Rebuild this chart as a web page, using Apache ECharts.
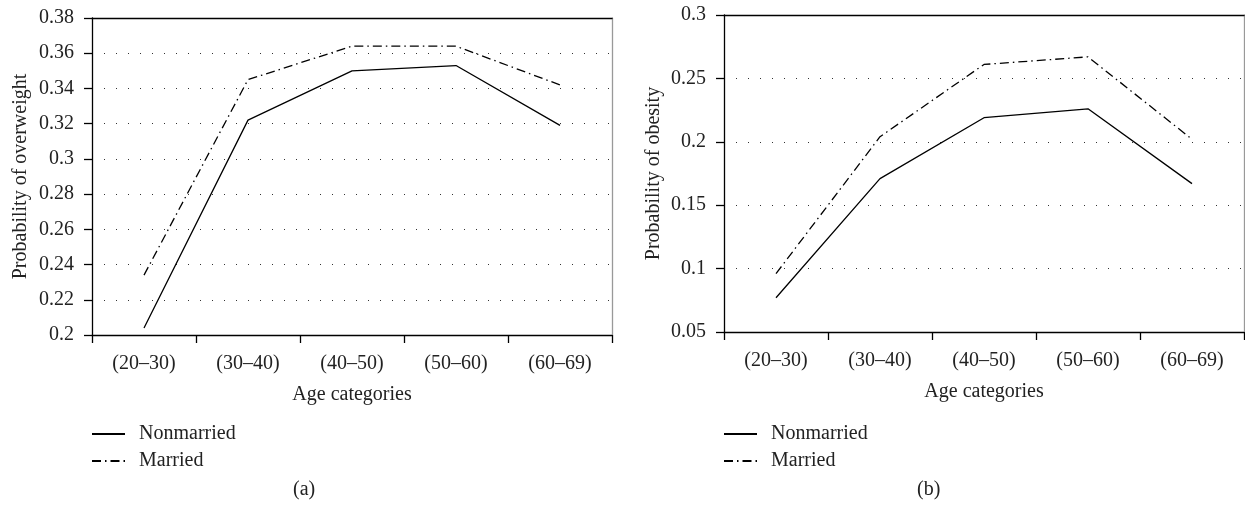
<!DOCTYPE html>
<html>
<head>
<meta charset="utf-8">
<script src="https://cdn.jsdelivr.net/npm/echarts@6/dist/echarts.min.js"></script>
<style>
  body { margin: 0; background: #fff; }
  #main { width: 1245px; height: 506px; }
</style>
</head>
<body>
<div id="main"></div>
<script>
// age groups on the x axis (both panels)
var ageCats = ['(20\u201330)', '(30\u201340)', '(40\u201350)', '(50\u201360)', '(60\u201369)'];

// panel (a): probability of overweight
var overNonmarried = [0.204, 0.322, 0.350, 0.353, 0.319];
var overMarried = [0.234, 0.345, 0.364, 0.364, 0.342];

// panel (b): probability of obesity
var obeseNonmarried = [0.077, 0.171, 0.219, 0.226, 0.167];
var obeseMarried = [0.096, 0.204, 0.261, 0.267, 0.202];

var FONT = 'Liberation Serif';
var FS = 20;
var dashDot = [9, 4, 1.5, 4];

function catAxis(gi) {
  return {
    type: 'category', gridIndex: gi, data: ageCats, boundaryGap: true,
    name: 'Age categories', nameLocation: 'middle', nameGap: 50,
    nameTextStyle: { fontFamily: FONT, fontSize: FS, color: '#222' },
    axisLine: { lineStyle: { color: '#000', width: 1.3 } },
    axisTick: { show: true, length: 8, lineStyle: { color: '#000', width: 1.3 } },
    axisLabel: { margin: 19, fontFamily: FONT, fontSize: FS, color: '#222' }
  };
}
function topAxis(gi) {
  return {
    type: 'category', gridIndex: gi, data: ageCats, position: 'top',
    axisLine: { lineStyle: { color: '#000', width: 1.3 } },
    axisTick: { show: false }, axisLabel: { show: false }
  };
}
function valAxis(gi, min, max, step, name, gap) {
  return {
    type: 'value', gridIndex: gi, min: min, max: max, interval: step,
    name: name, nameLocation: 'middle', nameGap: gap,
    nameTextStyle: { fontFamily: FONT, fontSize: FS, color: '#222' },
    axisLine: { show: true, lineStyle: { color: '#000', width: 1.3 } },
    axisTick: { show: true, length: 8, lineStyle: { color: '#000', width: 1.3 } },
    axisLabel: { margin: 18, fontFamily: FONT, fontSize: FS, color: '#222' },
    splitLine: { show: true, lineStyle: { color: '#333', width: 1, type: [1, 11] } }
  };
}
function rightAxis(gi, min, max) {
  return {
    type: 'value', gridIndex: gi, min: min, max: max, position: 'right',
    axisLine: { show: true, lineStyle: { color: '#999', width: 1.3 } },
    axisTick: { show: false }, axisLabel: { show: false }, splitLine: { show: false }
  };
}
function lineSeries(name, xi, yi, data, type) {
  return {
    name: name, type: 'line', xAxisIndex: xi, yAxisIndex: yi, data: data,
    symbol: 'none', silent: true, color: '#000',
    lineStyle: { color: '#000', width: 1.3, type: type }
  };
}
function legendAt(left) {
  return {
    orient: 'vertical', left: left, top: 419, itemWidth: 33, itemHeight: 14, itemGap: 7,
    data: ['Nonmarried', 'Married'],
    itemStyle: { opacity: 0 },
    textStyle: { fontFamily: FONT, fontSize: FS, color: '#222', padding: [0, 0, 0, 9] }
  };
}

var chart = echarts.init(document.getElementById('main'));
chart.setOption({
  animation: false,
  grid: [
    { left: 92, top: 18, width: 520, height: 317 },
    { left: 724, top: 15, width: 520, height: 317 }
  ],
  xAxis: [catAxis(0), catAxis(1), topAxis(0), topAxis(1)],
  yAxis: [
    valAxis(0, 0.2, 0.38, 0.02, 'Probability of overweight', 61),
    valAxis(1, 0.05, 0.3, 0.05, 'Probability of obesity', 60),
    rightAxis(0, 0.2, 0.38),
    rightAxis(1, 0.05, 0.3)
  ],
  legend: [legendAt(86), legendAt(718)],
  series: [
    lineSeries('Nonmarried', 0, 0, overNonmarried, 'solid'),
    lineSeries('Married', 0, 0, overMarried, dashDot),
    lineSeries('Nonmarried', 1, 1, obeseNonmarried, 'solid'),
    lineSeries('Married', 1, 1, obeseMarried, dashDot)
  ],
  graphic: [
    { type: 'text', left: 293, top: 480, style: { text: '(a)', font: '20px "Liberation Serif"', fill: '#222' } },
    { type: 'text', left: 917, top: 480, style: { text: '(b)', font: '20px "Liberation Serif"', fill: '#222' } }
  ]
});
</script>
</body>
</html>
